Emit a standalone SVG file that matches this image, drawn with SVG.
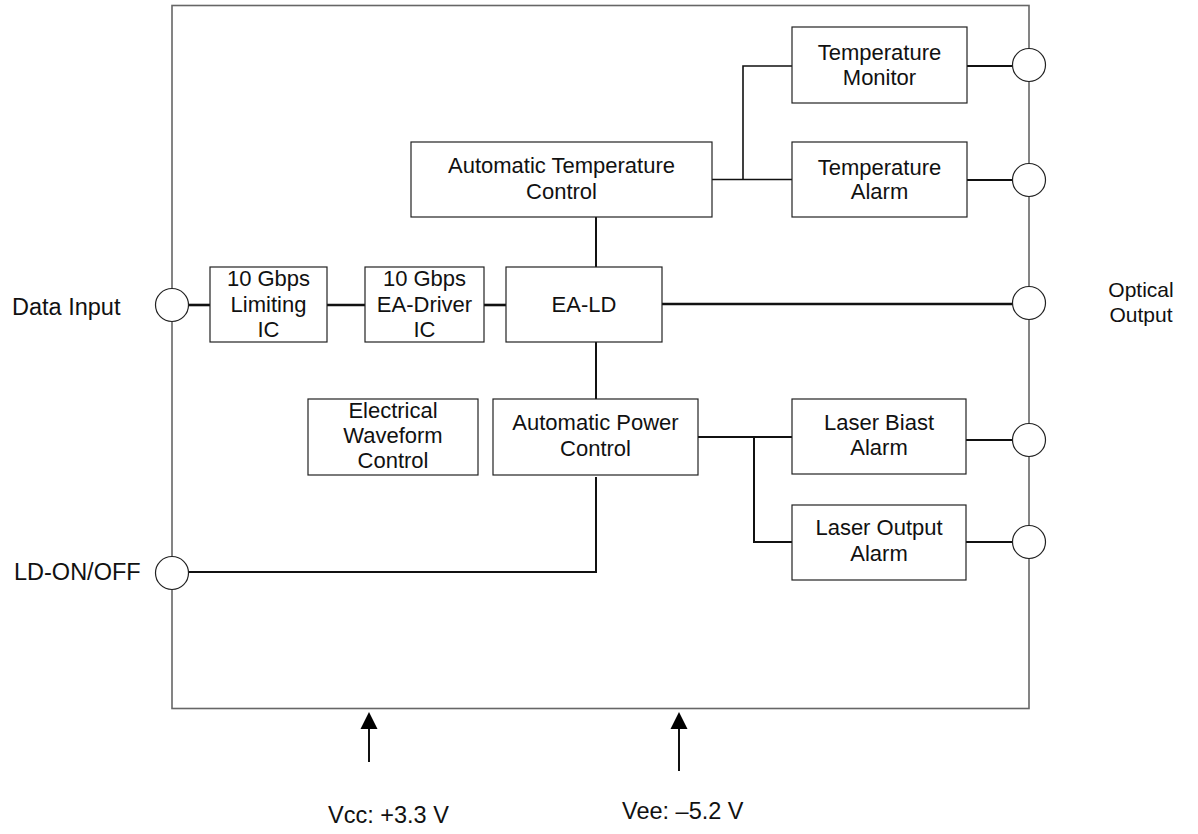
<svg xmlns="http://www.w3.org/2000/svg" width="1198" height="834" viewBox="0 0 1198 834">
<defs>
<style>
.box{fill:#fff;stroke:#222;stroke-width:1.2}
.t{font-family:"Liberation Sans",Arial,sans-serif;font-size:22px;fill:#111;text-anchor:middle}
.o{font-family:"Liberation Sans",Arial,sans-serif;font-size:21px;fill:#111;text-anchor:middle}
.lbl{font-family:"Liberation Sans",Arial,sans-serif;font-size:23.5px;fill:#111}
.port{fill:#fff;stroke:#222;stroke-width:1.2}
.thick{fill:none;stroke:#111;stroke-width:2.6}
.thin{fill:none;stroke:#111;stroke-width:1.6}
.med{fill:none;stroke:#111;stroke-width:2}
</style>
</defs>
<rect width="1198" height="834" fill="#fff"/>
<g id="enclosure">
<rect x="172" y="5.5" width="857" height="703" fill="none" stroke="#666" stroke-width="1.6"/>
</g>
<g id="connectors">
<line class="thick" x1="189" y1="305" x2="210" y2="305"/>
<line class="thick" x1="327" y1="305" x2="365" y2="305"/>
<line class="thick" x1="484" y1="305" x2="506" y2="305"/>
<line class="thick" x1="662" y1="304" x2="1012" y2="304"/>
<line class="med" x1="596" y1="217" x2="596" y2="267"/>
<line class="med" x1="596" y1="342" x2="596" y2="399"/>
<polyline class="thin" points="712,179.5 792,179.5"/>
<polyline class="thin" points="743,179.5 743,66 792,66"/>
<line class="med" x1="967" y1="66" x2="1012" y2="66"/>
<line class="med" x1="967" y1="180" x2="1012" y2="180"/>
<polyline class="med" points="698,437 792,437"/>
<polyline class="med" points="754,437 754,542 792,542"/>
<line class="med" x1="966" y1="440" x2="1012" y2="440"/>
<line class="med" x1="966" y1="542" x2="1012" y2="542"/>
<polyline class="med" points="596,477 596,572 189,572"/>
<path d="M369,762 V728" stroke="#111" stroke-width="2" fill="none"/>
<path d="M360.5,729 L369,712 L377.5,729 z" fill="#000"/>
<path d="M679,771 V728" stroke="#111" stroke-width="2" fill="none"/>
<path d="M670.5,729 L679,712 L687.5,729 z" fill="#000"/>
</g>
<g id="ports">
<circle class="port" cx="172" cy="305" r="16.5"/>
<circle class="port" cx="172" cy="573" r="16.5"/>
<circle class="port" cx="1029" cy="65" r="16.5"/>
<circle class="port" cx="1029" cy="180" r="16.5"/>
<circle class="port" cx="1029" cy="303" r="16.5"/>
<circle class="port" cx="1029" cy="440" r="16.5"/>
<circle class="port" cx="1029" cy="542" r="16.5"/>
</g>
<g id="temp-monitor">
<rect class="box" x="792" y="27" width="175" height="76"/>
<text class="t" x="879.5" y="60">Temperature</text>
<text class="t" x="879.5" y="85">Monitor</text>
</g>
<g id="temp-alarm">
<rect class="box" x="792" y="142" width="175" height="75"/>
<text class="t" x="879.5" y="175">Temperature</text>
<text class="t" x="879.5" y="199">Alarm</text>
</g>
<g id="atc">
<rect class="box" x="411" y="142" width="301" height="75"/>
<text class="t" x="561.5" y="173">Automatic Temperature</text>
<text class="t" x="561.5" y="199">Control</text>
</g>
<g id="limiting-ic">
<rect class="box" x="210" y="267" width="117" height="75"/>
<text class="t" x="268.5" y="286">10 Gbps</text>
<text class="t" x="268.5" y="312">Limiting</text>
<text class="t" x="268.5" y="337">IC</text>
</g>
<g id="driver-ic">
<rect class="box" x="365" y="267" width="119" height="75"/>
<text class="t" x="424.5" y="286">10 Gbps</text>
<text class="t" x="424.5" y="312">EA-Driver</text>
<text class="t" x="424.5" y="337">IC</text>
</g>
<g id="ea-ld">
<rect class="box" x="506" y="267" width="156" height="75"/>
<text class="t" x="584" y="312">EA-LD</text>
</g>
<g id="ewc">
<rect class="box" x="308" y="399" width="170" height="76"/>
<text class="t" x="393" y="418">Electrical</text>
<text class="t" x="393" y="443">Waveform</text>
<text class="t" x="393" y="468">Control</text>
</g>
<g id="apc">
<rect class="box" x="493" y="399" width="205" height="76"/>
<text class="t" x="595.5" y="430">Automatic Power</text>
<text class="t" x="595.5" y="456">Control</text>
</g>
<g id="laser-bias-alarm">
<rect class="box" x="792" y="399" width="174" height="75"/>
<text class="t" x="879" y="430">Laser Biast</text>
<text class="t" x="879" y="455">Alarm</text>
</g>
<g id="laser-output-alarm">
<rect class="box" x="792" y="505" width="174" height="75"/>
<text class="t" x="879" y="535">Laser Output</text>
<text class="t" x="879" y="561">Alarm</text>
</g>
<g id="labels">
<text class="lbl" x="12" y="315">Data Input</text>
<text class="lbl" x="14" y="580">LD-ON/OFF</text>
<text class="o" x="1141" y="297">Optical</text>
<text class="o" x="1141" y="322">Output</text>
<text class="lbl" x="328" y="823">Vcc: +3.3 V</text>
<text class="lbl" x="622" y="819">Vee: –5.2 V</text>
</g>
</svg>
